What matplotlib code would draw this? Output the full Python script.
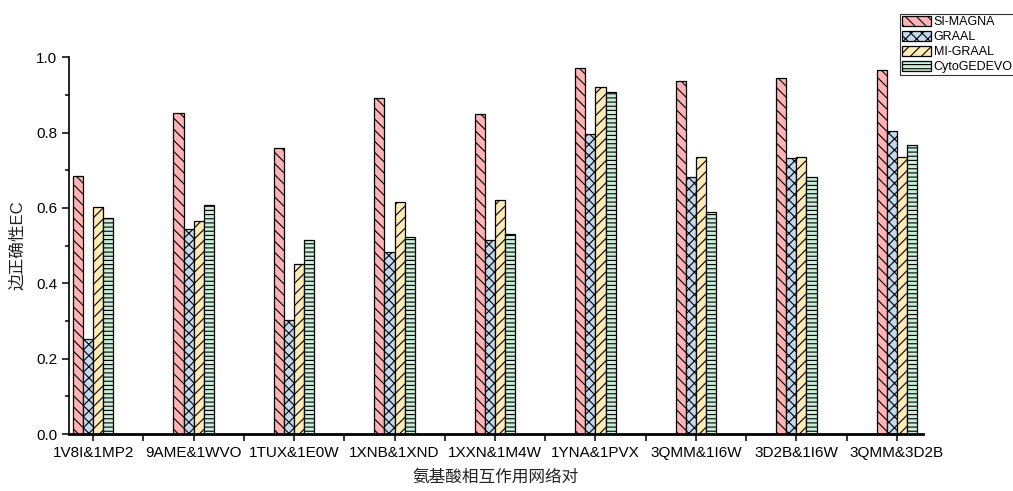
import numpy as np
import matplotlib
matplotlib.use("Agg")
import matplotlib.pyplot as plt
from matplotlib.ticker import MultipleLocator
from matplotlib.patches import Patch

plt.rcParams['font.family'] = ['Liberation Sans', 'Noto Sans CJK SC', 'DejaVu Sans']
plt.rcParams['hatch.linewidth'] = 0.8

pairs = ["1V8I&1MP2", "9AME&1WVO", "1TUX&1E0W", "1XNB&1XND", "1XXN&1M4W",
         "1YNA&1PVX", "3QMM&1I6W", "3D2B&1I6W", "3QMM&3D2B"]
si_magna = [0.685, 0.852, 0.760, 0.892, 0.850, 0.971, 0.938, 0.944, 0.965]
graal = [0.252, 0.544, 0.303, 0.484, 0.515, 0.796, 0.683, 0.732, 0.804]
mi_graal = [0.603, 0.565, 0.452, 0.615, 0.620, 0.922, 0.735, 0.735, 0.735]
cytogedevo = [0.574, 0.608, 0.516, 0.522, 0.532, 0.907, 0.590, 0.682, 0.767]

series = [("SI-MAGNA", si_magna, "#FFB3B5", "\\\\\\"),
          ("GRAAL", graal, "#C4D9EE", "xxx"),
          ("MI-GRAAL", mi_graal, "#FFEBB6", "///"),
          ("CytoGEDEVO", cytogedevo, "#C9EFD8", "----")]

fig = plt.figure(figsize=(10.13, 4.91), dpi=100)
ax = fig.add_axes([69 / 1013, 57 / 491, (923 - 69) / 1013, (434 - 57.3) / 491])

x = np.arange(len(pairs))
w = 0.1
handles = []
for i, (name, vals, col, hat) in enumerate(series):
    ax.bar(x + (i - 1.5) * w, vals, w, color=col, edgecolor="black",
           linewidth=0.9, hatch=hat)
    handles.append(Patch(facecolor=col, edgecolor="black", hatch=hat, linewidth=0.9, label=name))

ax.set_xlim(-0.24, len(pairs) - 1 + 0.26)
ax.set_ylim(0, 1.0)
ax.set_xticks(x)
ax.set_xticklabels(pairs, fontsize=11)
ax.xaxis.set_minor_locator(MultipleLocator(1, offset=0.5))
ax.yaxis.set_major_locator(MultipleLocator(0.2))
ax.yaxis.set_minor_locator(MultipleLocator(0.1))
ax.yaxis.set_major_formatter(matplotlib.ticker.FormatStrFormatter("%.1f"))
ax.tick_params(axis="y", labelsize=11)
ax.tick_params(which="major", length=5, width=1.1, direction="out")
ax.tick_params(which="minor", length=3, width=1.1, direction="out")
ax.tick_params(axis="x", which="minor", length=5)

ax.spines["top"].set_visible(False)
ax.spines["right"].set_visible(False)
ax.spines["left"].set_linewidth(1.2)
ax.spines["bottom"].set_linewidth(2.0)

ax.set_xlabel("氨基酸相互作用网络对", fontsize=12, color="#222222", labelpad=7)
ax.set_ylabel("边正确性EC", fontsize=12, color="#222222", labelpad=8)

leg = fig.legend(handles=handles, loc="upper left", bbox_to_anchor=(900 / 1013, 1 - 14 / 491),
                 fontsize=9, frameon=True, fancybox=False, edgecolor="black",
                 handlelength=2.3, handleheight=0.9, handletextpad=0.25,
                 labelspacing=0.2, borderpad=0.15, borderaxespad=0)
leg.get_frame().set_linewidth(0.8)

fig.savefig("out.png", dpi=100)
